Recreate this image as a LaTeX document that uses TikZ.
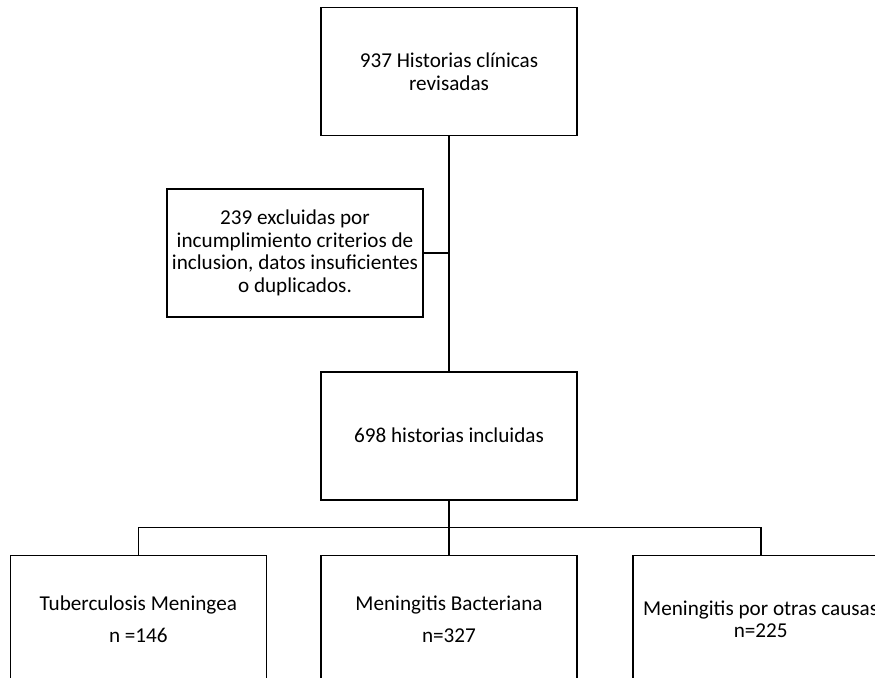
\documentclass[tikz,border=0pt]{standalone}
\usepackage{fontspec}
\setmainfont{Carlito}
\usetikzlibrary{positioning,calc}

\begin{document}
\begin{tikzpicture}[x=0.6pt,y=-0.6pt,line width=1pt,
    flow box/.style={rectangle,draw,minimum width=153.6pt,minimum height=76.8pt,inner sep=0pt,align=center,font=\fontsize{12.7}{13.6}\selectfont}]

            \useasboundingbox (0,0) rectangle (875,677);
            \clip (0,0) rectangle (875,677);

            \node[flow box] (revisadas) at (449,71.5) {937 Historias clínicas\\revisadas};
            \node[flow box] (excluidas) at (295,253) {239 excluidas por\\incumplimiento criterios de\\inclusion, datos insuficientes\\o duplicados.};
            \node[flow box] (incluidas) [below=140.7pt of revisadas] {698 historias incluidas};

            % grupos
            \node[flow box] (bacteriana) [below=32.4pt of incluidas] {Meningitis Bacteriana\\[5.6pt]n=327};
            \node[flow box] (tuberculosis) [left=31.8pt of bacteriana] {Tuberculosis Meningea\\[5.6pt]n =146};
            \node[flow box] (otras) [right=32.4pt of bacteriana] {Meningitis por otras causas\\n=225};

            \coordinate (split) at ($(incluidas.south)!0.5!(bacteriana.north)$);

            \draw (revisadas) -- (incluidas);
            \draw (excluidas.east) -- (excluidas.east -| revisadas.south);
            \draw (incluidas) -- (bacteriana);
            \draw (tuberculosis.north) |- (split) -| (otras.north);

\end{tikzpicture}
\end{document}
